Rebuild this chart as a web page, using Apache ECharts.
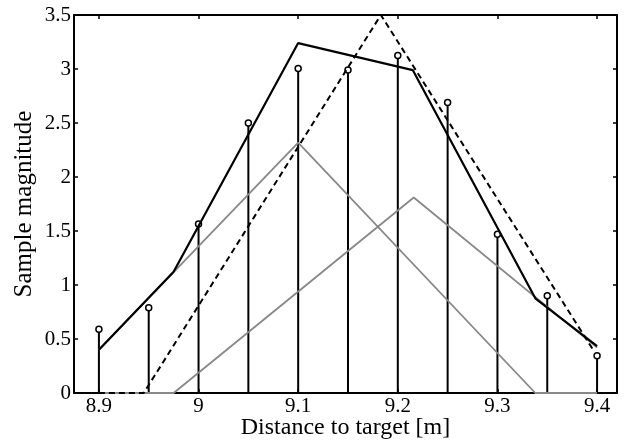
<!DOCTYPE html>
<html>
<head>
<meta charset="utf-8">
<script src="https://cdn.jsdelivr.net/npm/echarts@6/dist/echarts.min.js"></script>
<style>html,body{margin:0;padding:0;background:#fff;}#c{width:624px;height:441px;}</style>
</head>
<body>
<div id="c"></div>
<script>
// Data
var stemX = [8.9, 8.95, 9.0, 9.05, 9.1, 9.15, 9.2, 9.25, 9.3, 9.35, 9.4];
var stemY = [0.59, 0.79, 1.565, 2.50, 3.005, 2.99, 3.125, 2.69, 1.47, 0.90, 0.345];
var sumLineX = [8.9, 8.975, 9.1, 9.215, 9.338, 9.4];
var sumLineY = [0.40, 1.123, 3.24, 2.99, 0.877, 0.435];
var gray1X = [8.9, 9.1, 9.338, 9.4];
var gray1Y = [0.40, 2.318, 0, 0];
var gray2X = [8.9, 8.975, 9.216, 9.4];
var gray2Y = [0, 0, 1.81, 0.42];
var dashX = [8.9, 8.945, 9.183, 9.396];
var dashY = [0, 0, 3.5, 0.40];
var xTicks = [8.9, 9.0, 9.1, 9.2, 9.3, 9.4];
var yTicks = [0, 0.5, 1, 1.5, 2, 2.5, 3, 3.5];

function pairs(xs, ys) { return xs.map(function (x, i) { return [x, ys[i]]; }); }

var font = 'Liberation Serif';
var chart = echarts.init(document.getElementById('c'), null, { renderer: 'canvas' });
var axisCommon = {
  type: 'value',
  axisLine: { show: true, onZero: false, lineStyle: { color: '#000', width: 2 } },
  axisTick: { show: true, inside: true, length: 4, lineStyle: { color: '#000', width: 1.5 } },
  splitLine: { show: false },
  axisLabel: { color: '#000', fontFamily: font, fontSize: 21 }
};
chart.setOption({
  animation: false,
  backgroundColor: '#fff',
  grid: { left: 74, top: 15, right: 7, bottom: 48, containLabel: false, outerBoundsMode: 'none' },
  xAxis: [
    Object.assign({}, axisCommon, {
      min: 8.875, max: 9.42, position: 'bottom',
      axisTick: Object.assign({}, axisCommon.axisTick, { customValues: xTicks }),
      axisLabel: Object.assign({}, axisCommon.axisLabel, { customValues: xTicks, margin: 3 }),
      name: 'Distance to target [m]', nameLocation: 'middle', nameGap: 23, nameMoveOverlap: false,
      nameTextStyle: { color: '#000', fontFamily: font, fontSize: 24 }
    }),
    Object.assign({}, axisCommon, {
      min: 8.875, max: 9.42, position: 'top',
      axisTick: Object.assign({}, axisCommon.axisTick, { customValues: xTicks }),
      axisLabel: { show: false }
    })
  ],
  yAxis: [
    Object.assign({}, axisCommon, {
      min: 0, max: 3.5, interval: 0.5, position: 'left',
      axisLabel: Object.assign({}, axisCommon.axisLabel, { margin: 3 }),
      name: 'Sample magnitude', nameLocation: 'middle', nameGap: 37, nameMoveOverlap: false,
      nameTextStyle: { color: '#000', fontFamily: font, fontSize: 25 }
    }),
    Object.assign({}, axisCommon, {
      min: 0, max: 3.5, interval: 0.5, position: 'right',
      axisLabel: { show: false }
    })
  ],
  series: [
    {
      type: 'custom',
      data: pairs(stemX, stemY),
      renderItem: function (params, api) {
        var x = api.value(0), y = api.value(1);
        var p0 = api.coord([x, 0]);
        var p1 = api.coord([x, y]);
        var r = 3;
        return {
          type: 'group',
          children: [
            { type: 'line', shape: { x1: p0[0], y1: p0[1], x2: p1[0], y2: p1[1] + r }, style: { stroke: '#000', lineWidth: 2 } },
            { type: 'circle', shape: { cx: p1[0], cy: p1[1], r: r }, style: { fill: 'none', stroke: '#000', lineWidth: 1.5 } }
          ]
        };
      },
      z: 2
    },
    {
      type: 'line', data: pairs(gray1X, gray1Y), symbol: 'none',
      lineStyle: { color: '#888', width: 1.8 }, z: 3
    },
    {
      type: 'line', data: pairs(gray2X, gray2Y), symbol: 'none',
      lineStyle: { color: '#888', width: 1.8 }, z: 3
    },
    {
      type: 'line', data: pairs(sumLineX, sumLineY), symbol: 'none',
      lineStyle: { color: '#000', width: 2.2 }, z: 4
    },
    {
      type: 'line', data: pairs(dashX, dashY), symbol: 'none',
      lineStyle: { color: '#000', width: 2, type: [6, 4] }, z: 5
    }
  ]
});
</script>
</body>
</html>
